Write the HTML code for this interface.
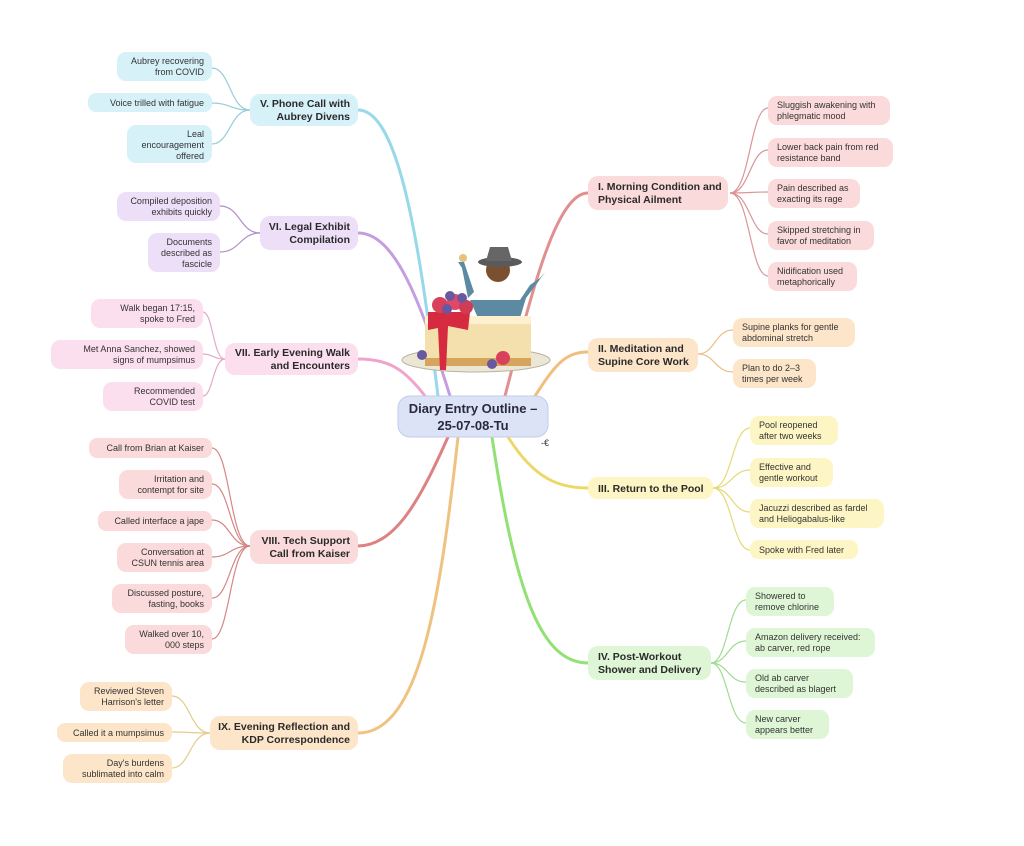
<!DOCTYPE html>
<html><head><meta charset="utf-8"><style>
html,body{margin:0;padding:0;background:#fff;}
svg{display:block;}
text{font-family:"Liberation Sans",sans-serif;fill:#333;}
.l{font-size:9px;}
.m{font-size:10.5px;font-weight:bold;fill:#2a2a2a;}
.c{font-size:13px;font-weight:bold;fill:#2a2a3a;}
</style></head><body>
<svg width="1024" height="846" viewBox="0 0 1024 846" xmlns="http://www.w3.org/2000/svg">
<rect width="1024" height="846" fill="#fff"/>
<g fill="none" stroke-width="3" stroke-linecap="round" opacity="0.85">
<path d="M505 396 C530 300,555 193,588 193" stroke="#dc7d7d"/>
<path d="M535 396 C555 365,565 352,588 352" stroke="#efb366"/>
<path d="M508 437 C535 480,560 488,588 488" stroke="#e8d24c"/>
<path d="M492 437 C515 590,540 663,588 663" stroke="#7edc5c"/>
<path d="M438 396 C420 250,400 110,358 110" stroke="#86d2e6"/>
<path d="M450 396 C420 300,395 233,358 233" stroke="#bb8cdc"/>
<path d="M425 396 C405 370,390 359,358 359" stroke="#ee93c4"/>
<path d="M448 437 C420 500,395 546,358 546" stroke="#d86c6c"/>
<path d="M458 437 C440 600,420 733,358 733" stroke="#eeb86c"/>
</g>
<!-- illustration -->
<g>
<ellipse cx="476" cy="360" rx="74" ry="12" fill="#ece6d4" stroke="#b8b2a0"/>
<path d="M470 300 L520 300 L530 285 L540 278 L545 272 L538 282 L526 298 L520 318 L478 318 Z" fill="#5b8aa2"/>
<path d="M468 298 L462 268 L458 262 L464 262 L474 292 Z" fill="#5b8aa2"/>
<circle cx="463" cy="258" r="4" fill="#e4c27a"/>
<circle cx="498" cy="270" r="12" fill="#7a5030"/>
<ellipse cx="500" cy="262" rx="22" ry="5" fill="#5a5a5a"/>
<path d="M486 261 L490 247 L508 247 L512 261 Z" fill="#666"/>
<rect x="425" y="316" width="106" height="50" rx="3" fill="#f4e0ac"/>
<rect x="425" y="316" width="106" height="8" fill="#fcf0cf"/>
<rect x="425" y="358" width="106" height="8" fill="#d6a45c"/>
<path d="M428 312 L470 312 L468 330 L448 326 L446 370 L440 370 L438 328 L428 330 Z" fill="#d62a40"/>
<circle cx="440" cy="305" r="8" fill="#d8405c"/>
<circle cx="455" cy="302" r="8" fill="#e04866"/>
<circle cx="466" cy="307" r="7" fill="#d03c56"/>
<circle cx="450" cy="296" r="5" fill="#6858a0"/>
<circle cx="462" cy="298" r="5" fill="#6858a0"/>
<circle cx="447" cy="309" r="5" fill="#6858a0"/>
<circle cx="503" cy="358" r="7" fill="#d8405c"/>
<circle cx="492" cy="364" r="5" fill="#6858a0"/>
<circle cx="422" cy="355" r="5" fill="#6858a0"/>
</g>
<!-- center -->
<rect x="398" y="396" width="150" height="41" rx="12" fill="#dde3f7" stroke="#c3cbeb"/>
<text class="c" x="473" y="413" text-anchor="middle">Diary Entry Outline –</text>
<text class="c" x="473" y="430" text-anchor="middle">25-07-08-Tu</text>
<text x="541" y="446" style="font-size:9px">-€</text>

<!-- leaf connectors -->
<g fill="none" stroke-width="1.2" opacity="0.9">
<g stroke="#d68a8a">
<path d="M730 193 C750 193,750 108,768 108"/><path d="M730 193 C750 193,750 150,768 150"/><path d="M730 193 C750 193,750 192,768 192"/><path d="M730 193 C750 193,750 234,768 234"/><path d="M730 193 C750 193,750 276,768 276"/>
</g>
<g stroke="#e8b878"><path d="M698 354 C715 354,715 330,733 330"/><path d="M698 354 C715 354,715 372,733 372"/></g>
<g stroke="#e4d46a"><path d="M713 488 C732 488,732 428,750 428"/><path d="M713 488 C732 488,732 470,750 470"/><path d="M713 488 C732 488,732 512,750 512"/><path d="M713 488 C732 488,732 550,750 550"/></g>
<g stroke="#96d884"><path d="M711 663 C728 663,728 600,746 600"/><path d="M711 663 C728 663,728 641,746 641"/><path d="M711 663 C728 663,728 682,746 682"/><path d="M711 663 C728 663,728 723,746 723"/></g>
<g stroke="#8cc8d6"><path d="M250 110 C230 110,230 68,212 68"/><path d="M250 110 C230 110,230 103,212 103"/><path d="M250 110 C230 110,230 144,212 144"/></g>
<g stroke="#a880c0"><path d="M260 233 C240 233,240 206,220 206"/><path d="M260 233 C240 233,240 252,220 252"/></g>
<g stroke="#e0a0c4"><path d="M225 359 C213 359,213 312,203 312"/><path d="M225 359 C213 359,213 354,203 354"/><path d="M225 359 C213 359,213 396,203 396"/></g>
<g stroke="#d07a7a"><path d="M250 546 C230 546,230 448,212 448"/><path d="M250 546 C230 546,230 484,212 484"/><path d="M250 546 C230 546,230 520,212 520"/><path d="M250 546 C230 546,230 557,212 557"/><path d="M250 546 C230 546,230 598,212 598"/><path d="M250 546 C230 546,230 639,212 639"/></g>
<g stroke="#e2c680"><path d="M210 733 C190 733,190 696,172 696"/><path d="M210 733 C190 733,190 732,172 732"/><path d="M210 733 C190 733,190 768,172 768"/></g>
</g>

<!-- main nodes -->
<rect x="588" y="176" width="140" height="34" rx="10" fill="#fadada"/>
<text class="m" x="598" y="190">I. Morning Condition and</text><text class="m" x="598" y="203">Physical Ailment</text>
<rect x="588" y="338" width="110" height="34" rx="10" fill="#fde5c9"/>
<text class="m" x="598" y="352">II. Meditation and</text><text class="m" x="598" y="365">Supine Core Work</text>
<rect x="588" y="477" width="125" height="22" rx="9" fill="#fdf5c4"/>
<text class="m" x="598" y="492">III. Return to the Pool</text>
<rect x="588" y="646" width="123" height="34" rx="10" fill="#dff6d6"/>
<text class="m" x="598" y="660">IV. Post-Workout</text><text class="m" x="598" y="673">Shower and Delivery</text>
<rect x="250" y="94" width="108" height="32" rx="10" fill="#d6f1f8"/>
<text class="m" x="350" y="107" text-anchor="end">V. Phone Call with</text><text class="m" x="350" y="120" text-anchor="end">Aubrey Divens</text>
<rect x="260" y="216" width="98" height="34" rx="10" fill="#eedff8"/>
<text class="m" x="350" y="230" text-anchor="end">VI. Legal Exhibit</text><text class="m" x="350" y="243" text-anchor="end">Compilation</text>
<rect x="225" y="343" width="133" height="32" rx="10" fill="#fbdfee"/>
<text class="m" x="350" y="356" text-anchor="end">VII. Early Evening Walk</text><text class="m" x="350" y="369" text-anchor="end">and Encounters</text>
<rect x="250" y="530" width="108" height="34" rx="10" fill="#fadada"/>
<text class="m" x="350" y="544" text-anchor="end">VIII. Tech Support</text><text class="m" x="350" y="557" text-anchor="end">Call from Kaiser</text>
<rect x="210" y="716" width="148" height="34" rx="10" fill="#fde5c9"/>
<text class="m" x="350" y="730" text-anchor="end">IX. Evening Reflection and</text><text class="m" x="350" y="743" text-anchor="end">KDP Correspondence</text>

<!-- right leaves -->
<g class="l">
<rect x="768" y="96" width="122" height="29" rx="9" fill="#fadada"/><text class="l" x="777" y="108">Sluggish awakening with</text><text class="l" x="777" y="119">phlegmatic mood</text>
<rect x="768" y="138" width="125" height="29" rx="9" fill="#fadada"/><text class="l" x="777" y="150">Lower back pain from red</text><text class="l" x="777" y="161">resistance band</text>
<rect x="768" y="179" width="92" height="29" rx="9" fill="#fadada"/><text class="l" x="777" y="191">Pain described as</text><text class="l" x="777" y="202">exacting its rage</text>
<rect x="768" y="221" width="106" height="29" rx="9" fill="#fadada"/><text class="l" x="777" y="233">Skipped stretching in</text><text class="l" x="777" y="244">favor of meditation</text>
<rect x="768" y="262" width="89" height="29" rx="9" fill="#fadada"/><text class="l" x="777" y="274">Nidification used</text><text class="l" x="777" y="285">metaphorically</text>

<rect x="733" y="318" width="122" height="29" rx="9" fill="#fde5c9"/><text class="l" x="742" y="330">Supine planks for gentle</text><text class="l" x="742" y="341">abdominal stretch</text>
<rect x="733" y="359" width="83" height="29" rx="9" fill="#fde5c9"/><text class="l" x="742" y="371">Plan to do 2–3</text><text class="l" x="742" y="382">times per week</text>

<rect x="750" y="416" width="88" height="29" rx="9" fill="#fdf5c4"/><text class="l" x="759" y="428">Pool reopened</text><text class="l" x="759" y="439">after two weeks</text>
<rect x="750" y="458" width="83" height="29" rx="9" fill="#fdf5c4"/><text class="l" x="759" y="470">Effective and</text><text class="l" x="759" y="481">gentle workout</text>
<rect x="750" y="499" width="134" height="29" rx="9" fill="#fdf5c4"/><text class="l" x="759" y="511">Jacuzzi described as fardel</text><text class="l" x="759" y="522">and Heliogabalus-like</text>
<rect x="750" y="540" width="108" height="19" rx="8" fill="#fdf5c4"/><text class="l" x="759" y="553">Spoke with Fred later</text>

<rect x="746" y="587" width="88" height="29" rx="9" fill="#dff6d6"/><text class="l" x="755" y="599">Showered to</text><text class="l" x="755" y="610">remove chlorine</text>
<rect x="746" y="628" width="129" height="29" rx="9" fill="#dff6d6"/><text class="l" x="755" y="640">Amazon delivery received:</text><text class="l" x="755" y="651">ab carver, red rope</text>
<rect x="746" y="669" width="107" height="29" rx="9" fill="#dff6d6"/><text class="l" x="755" y="681">Old ab carver</text><text class="l" x="755" y="692">described as blagert</text>
<rect x="746" y="710" width="83" height="29" rx="9" fill="#dff6d6"/><text class="l" x="755" y="722">New carver</text><text class="l" x="755" y="733">appears better</text>
</g>

<!-- left leaves -->
<g text-anchor="end">
<rect x="117" y="52" width="95" height="29" rx="9" fill="#d6f1f8"/><text class="l" x="204" y="64" text-anchor="end">Aubrey recovering</text><text class="l" x="204" y="75" text-anchor="end">from COVID</text>
<rect x="88" y="93" width="124" height="19" rx="8" fill="#d6f1f8"/><text class="l" x="204" y="106" text-anchor="end">Voice trilled with fatigue</text>
<rect x="127" y="125" width="85" height="38" rx="9" fill="#d6f1f8"/><text class="l" x="204" y="137" text-anchor="end">Leal</text><text class="l" x="204" y="148" text-anchor="end">encouragement</text><text class="l" x="204" y="159" text-anchor="end">offered</text>

<rect x="117" y="192" width="103" height="29" rx="9" fill="#eedff8"/><text class="l" x="212" y="204" text-anchor="end">Compiled deposition</text><text class="l" x="212" y="215" text-anchor="end">exhibits quickly</text>
<rect x="148" y="233" width="72" height="39" rx="9" fill="#eedff8"/><text class="l" x="212" y="245" text-anchor="end">Documents</text><text class="l" x="212" y="256" text-anchor="end">described as</text><text class="l" x="212" y="267" text-anchor="end">fascicle</text>

<rect x="91" y="299" width="112" height="29" rx="9" fill="#fbdfee"/><text class="l" x="195" y="311" text-anchor="end">Walk began 17:15,</text><text class="l" x="195" y="322" text-anchor="end">spoke to Fred</text>
<rect x="51" y="340" width="152" height="29" rx="9" fill="#fbdfee"/><text class="l" x="195" y="352" text-anchor="end">Met Anna Sanchez, showed</text><text class="l" x="195" y="363" text-anchor="end">signs of mumpsimus</text>
<rect x="103" y="382" width="100" height="29" rx="9" fill="#fbdfee"/><text class="l" x="195" y="394" text-anchor="end">Recommended</text><text class="l" x="195" y="405" text-anchor="end">COVID test</text>

<rect x="89" y="438" width="123" height="20" rx="8" fill="#fadada"/><text class="l" x="204" y="451" text-anchor="end">Call from Brian at Kaiser</text>
<rect x="119" y="470" width="93" height="29" rx="9" fill="#fadada"/><text class="l" x="204" y="482" text-anchor="end">Irritation and</text><text class="l" x="204" y="493" text-anchor="end">contempt for site</text>
<rect x="98" y="511" width="114" height="20" rx="8" fill="#fadada"/><text class="l" x="204" y="524" text-anchor="end">Called interface a jape</text>
<rect x="117" y="543" width="95" height="29" rx="9" fill="#fadada"/><text class="l" x="204" y="555" text-anchor="end">Conversation at</text><text class="l" x="204" y="566" text-anchor="end">CSUN tennis area</text>
<rect x="112" y="584" width="100" height="29" rx="9" fill="#fadada"/><text class="l" x="204" y="596" text-anchor="end">Discussed posture,</text><text class="l" x="204" y="607" text-anchor="end">fasting, books</text>
<rect x="125" y="625" width="87" height="29" rx="9" fill="#fadada"/><text class="l" x="204" y="637" text-anchor="end">Walked over 10,</text><text class="l" x="204" y="648" text-anchor="end">000 steps</text>

<rect x="80" y="682" width="92" height="29" rx="9" fill="#fde5c9"/><text class="l" x="164" y="694" text-anchor="end">Reviewed Steven</text><text class="l" x="164" y="705" text-anchor="end">Harrison's letter</text>
<rect x="57" y="723" width="115" height="19" rx="8" fill="#fde5c9"/><text class="l" x="164" y="736" text-anchor="end">Called it a mumpsimus</text>
<rect x="63" y="754" width="109" height="29" rx="9" fill="#fde5c9"/><text class="l" x="164" y="766" text-anchor="end">Day's burdens</text><text class="l" x="164" y="777" text-anchor="end">sublimated into calm</text>
</g>
</svg>
</body></html>
